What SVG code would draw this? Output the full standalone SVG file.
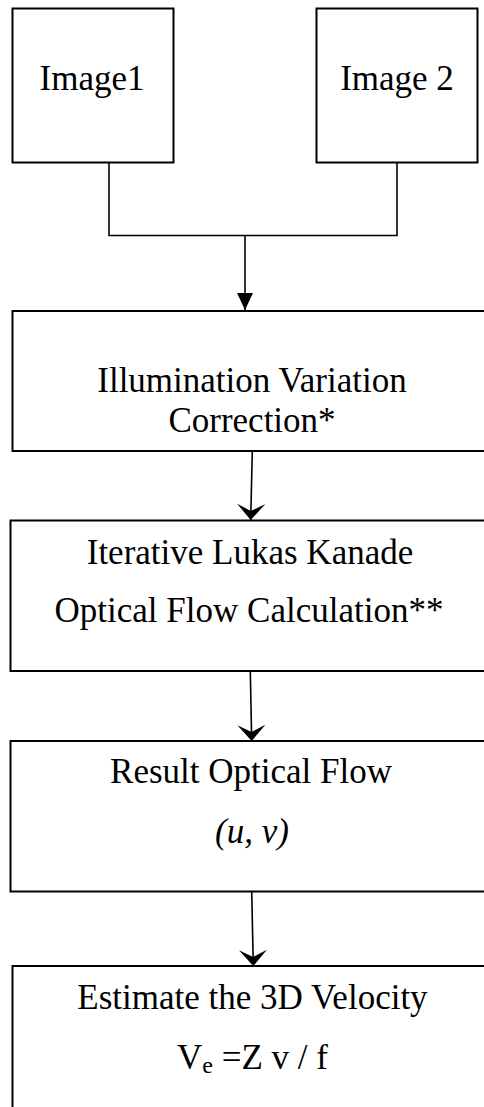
<svg xmlns="http://www.w3.org/2000/svg" width="484" height="1107" viewBox="0 0 484 1107">
  <style>
    .box { fill: #ffffff; stroke: #000000; stroke-width: 2; }
    .lbl { font-family: "Liberation Serif", "Times New Roman", serif; font-size: 35px; fill: #000000; text-anchor: middle; }
    .wire { fill: none; stroke: #000000; stroke-width: 1.6; }
  </style>
  <defs>
    <marker id="tri" markerUnits="userSpaceOnUse" markerWidth="18" markerHeight="18" refX="17" refY="9" orient="auto">
      <path d="M0,1 L17,9 L0,17 Z" fill="#000000"/>
    </marker>
    <marker id="stealth" markerUnits="userSpaceOnUse" markerWidth="26" markerHeight="30" refX="16" refY="14" orient="auto">
      <path d="M0,0 L16,14 L0,28 L7,14 Z" fill="#000000"/>
    </marker>
  </defs>
  <rect width="484" height="1107" fill="#ffffff"/>

  <g id="image1">
    <rect class="box" x="12.5" y="8.5" width="161" height="154"/>
    <text class="lbl" x="92" y="90">Image1</text>
  </g>
  <g id="image2">
    <rect class="box" x="316.5" y="8.5" width="161" height="154"/>
    <text class="lbl" x="397" y="90">Image 2</text>
  </g>
  <g id="illumination">
    <rect class="box" x="12.5" y="311" width="490" height="140"/>
    <text class="lbl" x="252" y="391.5">Illumination Variation</text>
    <text class="lbl" x="252" y="431.5">Correction*</text>
  </g>
  <g id="lucas-kanade">
    <rect class="box" x="10.5" y="520.5" width="490" height="150.5"/>
    <text class="lbl" x="250" y="563.5">Iterative Lukas Kanade</text>
    <text class="lbl" x="249" y="621.5">Optical Flow Calculation**</text>
  </g>
  <g id="result-flow">
    <rect class="box" x="10.5" y="741" width="490" height="150.5"/>
    <text class="lbl" x="251" y="782.5">Result Optical Flow</text>
    <text class="lbl" x="252" y="842.5" font-style="italic">(u, v)</text>
  </g>
  <g id="velocity">
    <rect class="box" x="12.5" y="966" width="490" height="160"/>
    <text class="lbl" x="252.5" y="1008.5">Estimate the 3D Velocity</text>
    <text class="lbl" x="252.5" y="1068.5">V<tspan font-size="24" dy="4">e</tspan><tspan dy="-4"> =Z v / f</tspan></text>
  </g>

  <g id="connectors">
    <path class="wire" d="M109,162 V235.5 H397 V162"/>
    <path class="wire" d="M245,235.5 V310" marker-end="url(#tri)"/>
    <path class="wire" d="M252.3,451 L250.7,520" marker-end="url(#stealth)"/>
    <path class="wire" d="M250.3,671 L251.7,741" marker-end="url(#stealth)"/>
    <path class="wire" d="M251.7,891.5 L253.3,966" marker-end="url(#stealth)"/>
  </g>
</svg>
